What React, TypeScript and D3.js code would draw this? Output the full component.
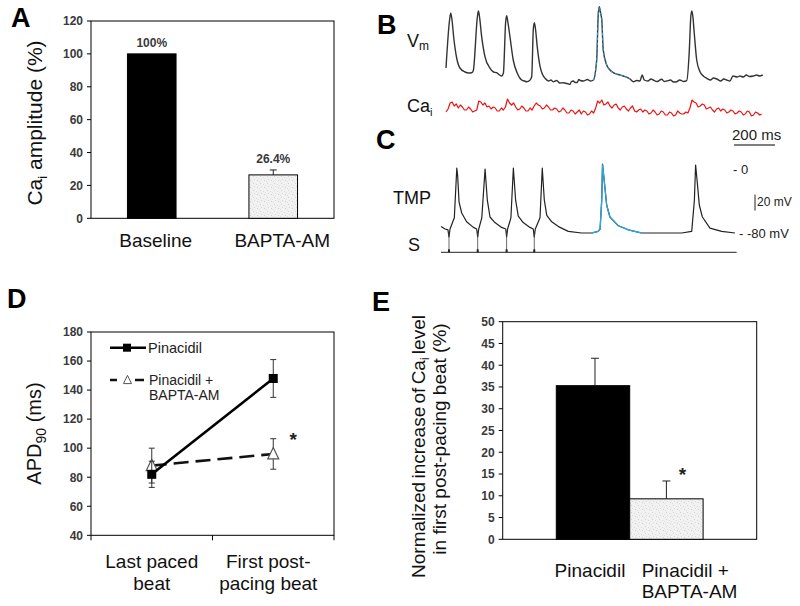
import React from 'react';
import * as d3 from 'd3';

const FONT = '"Liberation Sans", Arial, Helvetica, sans-serif';

// ---------- Panel A ----------
const aCategories = ['Baseline', 'BAPTA-AM'];
const aValues = [100, 26.4];
const aErrors = [0, 3.0];
const aLabels = ['100%', '26.4%'];
const aTicks = [0, 20, 40, 60, 80, 100, 120];

// ---------- Panel B (time in ms, amplitude in a.u.) ----------
const vmTrace: [number, number][] = [
  [0, 17], [18, 66], [23, 71.7], [28, 67], [39, 45], [52, 27], [68, 17], [93, 13], [110, 12], [125, 12.3], [133, 14.3],
  [153, 68], [158, 74], [163, 69], [174, 48.3], [190, 28.3], [215, 16.7], [232, 13], [247, 12.3], [262, 10], [272, 9], [280, 12],
  [291, 63], [296, 69.3], [301, 64], [312, 48.3], [328, 25], [348, 11.7], [360, 7], [369, 5], [382, 4], [394, 3.3], [408, 4.5], [418, 8.3],
  [426, 56], [431, 62.3], [436, 57], [445, 38.3], [459, 18.3], [472, 10], [483, 6.7], [500, 4], [512, 5], [523, 3.3], [540, 4.5], [555, 2],
  [572, 2.3], [590, 1.5], [605, 0.7], [612, 3.5], [621, 4], [630, 2.5], [640, 2.5], [648, 5.5], [655, 4.5], [670, 4],
  [690, 5.5], [705, 4], [719, 5], [735, 25],
  [743, 72], [748, 78.3], [753, 73], [760, 65], [767, 35], [784, 20], [800, 15], [816, 12.3], [840, 10.5], [865, 9], [898, 6], [914, 3.3],
  [930, 4.5], [946, 4], [957, 10], [967, 5], [985, 4], [1000, 6], [1011, 5], [1030, 3.5], [1052, 5.7], [1065, 3.5],
  [1077, 4], [1095, 5], [1110, 3], [1125, 3.3], [1140, 5], [1160, 3.5], [1174, 4.3], [1187, 35],
  [1194, 68], [1199, 74], [1204, 69], [1211, 51.7], [1223, 25], [1239, 13.3], [1255, 9], [1272, 6.7], [1290, 5], [1305, 7], [1321, 6],
  [1340, 4], [1355, 6], [1369, 5], [1385, 4], [1400, 9], [1420, 8], [1434, 9], [1450, 8], [1465, 10], [1480, 8.5],
  [1499, 9], [1515, 10], [1530, 9], [1545, 10],
];
const caiStepMs = 10;
const caiTrace = [
  8, 11, 17, 18, 14, 16, 12, 15, 13, 10,
  10, 13, 11, 8, 9, 10, 19, 18, 15, 17,
  13, 14, 11, 13, 12, 9, 9, 12, 10, 13,
  21, 17, 15, 17, 13, 10, 11, 14, 12, 9,
  9, 12, 10, 14, 17, 15, 14, 11, 12, 15,
  13, 10, 10, 12, 11, 8, 9, 12, 10, 7,
  7, 10, 9, 6, 8, 10, 6, 9, 8, 5,
  6, 9, 7, 12, 19, 17, 20, 15, 16, 18,
  14, 12, 15, 16, 12, 10, 13, 14, 11, 9,
  12, 14, 9, 8, 10, 11, 8, 10, 9, 6,
  7, 10, 8, 5, 6, 9, 8, 5, 5, 8,
  7, 4, 5, 9, 7, 6, 6, 8, 7, 12,
  20, 18, 17, 13, 14, 16, 15, 11, 12, 13,
  10, 8, 11, 12, 9, 11, 10, 7, 8, 10,
  9, 6, 7, 9, 8, 5, 6, 9, 8, 4,
  5, 8, 7, 5, 6,
];
const bBlueRange: [number, number] = [715, 905];

// ---------- Panel C (time in ms, TMP in mV) ----------
const tmpTrace: [number, number][] = [
  [0, -72], [20, -75], [34, -76], [39, -85], [44, -75], [65, -61], [77, 1], [81, -7.5], [88, -41], [101, -55],
  [125, -66], [158, -73], [174, -75], [179, -85], [184, -75], [199, -61], [215, 0], [226, -39], [239, -60],
  [263, -67], [296, -73], [316, -75], [320, -85], [325, -75], [341, -61], [353, 1], [364, -39], [377, -59],
  [401, -67], [434, -73], [450, -75], [455, -85], [460, -75], [483, -61], [494, 1], [504, -39], [516, -58],
  [540, -66], [573, -72], [621, -78], [686, -80], [735, -80], [766, -78], [776, -75], [784, -39], [788, 6],
  [800, -24], [808, -45], [824, -60], [865, -71], [914, -76], [979, -80], [1077, -80], [1174, -80], [1223, -78],
  [1236, -39], [1242, 5], [1252, -22], [1260, -45], [1275, -60], [1312, -74], [1369, -78], [1434, -80],
];
const stimTimes = [39, 179, 320, 455];
const stimEnd = 1442;
const cBlueRange: [number, number] = [700, 985];

// ---------- Panel D ----------
const dCategories = ['Last paced beat', 'First post-pacing beat'];
const dCategoryLines = [['Last paced', 'beat'], ['First post-', 'pacing beat']];
const dPinacidil = [82, 148];
const dPinacidilErr = [9, 13];
const dBapta = [88, 96];
const dBaptaErr = [12, 10.5];
const dTicks = [40, 60, 80, 100, 120, 140, 160, 180];

// ---------- Panel E ----------
const eCategories = ['Pinacidil', 'Pinacidil + BAPTA-AM'];
const eValues = [35.3, 9.3];
const eErrors = [6.3, 4.1];
const eTicks = [0, 5, 10, 15, 20, 25, 30, 35, 40, 45, 50];

const TICK_COLOR = '#3a3a3a';

function YTicks({ scale, ticks, x }: { scale: d3.ScaleLinear<number, number>; ticks: number[]; x: number }) {
  return (
    <g>
      {ticks.map((t) => (
        <g key={t}>
          <line x1={x - 4} x2={x} y1={scale(t)} y2={scale(t)} stroke="#000" strokeWidth={1} />
          <text x={x - 8} y={scale(t) + 4.3} textAnchor="end" fontSize={12} fontWeight="bold" fill={TICK_COLOR}>
            {t}
          </text>
        </g>
      ))}
    </g>
  );
}

function ErrBar({ x, y0, y1, cap }: { x: number; y0: number; y1: number; cap: number }) {
  return (
    <g stroke="#222" strokeWidth={1}>
      <line x1={x} x2={x} y1={y0} y2={y1} />
      <line x1={x - cap / 2} x2={x + cap / 2} y1={y1} y2={y1} />
    </g>
  );
}

function ErrBarBoth({ x, y0, y1, cap }: { x: number; y0: number; y1: number; cap: number }) {
  return (
    <g stroke="#333" strokeWidth={1}>
      <line x1={x} x2={x} y1={y0} y2={y1} />
      <line x1={x - cap / 2} x2={x + cap / 2} y1={y0} y2={y0} />
      <line x1={x - cap / 2} x2={x + cap / 2} y1={y1} y2={y1} />
    </g>
  );
}

export default function App() {
  // ----- A -----
  const aL = 91, aR = 334, aT = 21, aB = 218.3;
  const aX = d3.scaleBand().domain(aCategories).range([aL, aR]).paddingInner(0.6).paddingOuter(0.3);
  const aY = d3.scaleLinear().domain([0, 120]).range([aB, aT]);
  const aLabelDx = [4, 9];

  // ----- B -----
  const pxPerMs = 41 / 200;
  const bX0 = 446;
  const bX = d3.scaleLinear().domain([0, 1545]).range([bX0, bX0 + 1545 * pxPerMs]);
  const vmY = d3.scaleLinear().domain([0, 80]).range([85, 5]);
  const caY = d3.scaleLinear().domain([0, 20]).range([120, 100]);
  const vmLine = d3.line<[number, number]>().x((d) => bX(d[0])).y((d) => vmY(d[1])).curve(d3.curveMonotoneX);
  const caLine = d3.line<number>().x((_, i) => bX(i * caiStepMs)).y((d) => caY(d));
  const vmBlue = vmTrace.filter((d) => d[0] >= bBlueRange[0] && d[0] <= bBlueRange[1]);

  // ----- C -----
  const cX0 = 441;
  const cX = d3.scaleLinear().domain([0, stimEnd]).range([cX0, cX0 + stimEnd * pxPerMs]);
  const tmpY = d3.scaleLinear().domain([-80, 0]).range([233, 169]);
  const tmpLine = d3.line<[number, number]>().x((d) => cX(d[0])).y((d) => tmpY(d[1]));
  const tmpBlue = tmpTrace.filter((d) => d[0] >= cBlueRange[0] && d[0] <= cBlueRange[1]);
  const stimY = 252.3;

  // ----- D -----
  const dL = 91, dR = 334, dT = 332, dB = 535.3;
  const dX = d3.scalePoint().domain(dCategories).range([dL, dR]).padding(0.5);
  const dY = d3.scaleLinear().domain([40, 180]).range([dB, dT]);
  const dLine = d3.line<number>().x((_, i) => dX(dCategories[i]) as number).y((d) => dY(d));
  const dLabelDx = [0, -5];
  const triPath = (cx: number, cy: number, s: number) =>
    `M${cx},${cy - s * 0.58} L${cx + s / 2},${cy + s * 0.45} L${cx - s / 2},${cy + s * 0.45} Z`;

  // ----- E -----
  const eL = 502.7, eR = 756.7, eT = 321.7, eB = 539.3;
  const eX = d3.scaleBand().domain(eCategories).range([eL, eR]).paddingInner(0).paddingOuter(0.73);
  const eY = d3.scaleLinear().domain([0, 50]).range([eB, eT]);

  return (
    <svg
      width={800}
      height={606}
      viewBox="0 0 800 606"
      style={{ position: 'absolute', left: 0, top: 0, background: '#fff' }}
      fontFamily={FONT}
    >
      <defs>
        <pattern id="stipple" width={7} height={7} patternUnits="userSpaceOnUse">
          <rect width={7} height={7} fill="#f1f1f1" />
          <rect x={1} y={1} width={1} height={1} fill="#d4d4d4" />
          <rect x={4} y={2} width={1} height={1} fill="#dcdcdc" />
          <rect x={2} y={4} width={1} height={1} fill="#d8d8d8" />
          <rect x={5} y={5} width={1} height={1} fill="#d0d0d0" />
          <rect x={6} y={3} width={1} height={1} fill="#e2e2e2" />
          <rect x={0} y={6} width={1} height={1} fill="#dedede" />
        </pattern>
      </defs>
      <rect width={800} height={606} fill="#fff" />

      {/* ================= Panel A ================= */}
      <text x={11} y={27} fontSize={27} fontWeight="bold" fill="#000">A</text>
      <rect x={aL} y={aT} width={aR - aL} height={aB - aT} fill="none" stroke="#000" strokeWidth={1} />
      <YTicks scale={aY} ticks={aTicks} x={aL} />
      {aCategories.map((c, i) => {
        const x = aX(c) as number;
        const w = aX.bandwidth();
        const cx = x + w / 2;
        return (
          <g key={c}>
            <rect
              x={x}
              y={aY(aValues[i])}
              width={w}
              height={aB - aY(aValues[i])}
              fill={i === 0 ? '#000' : 'url(#stipple)'}
              stroke="#000"
              strokeWidth={1}
            />
            {aErrors[i] > 0 && <ErrBar x={cx} y0={aY(aValues[i])} y1={aY(aValues[i] + aErrors[i])} cap={7} />}
            <text
              x={cx}
              y={aY(aValues[i] + aErrors[i]) - 7}
              textAnchor="middle"
              fontSize={12}
              fontWeight="bold"
              fill={TICK_COLOR}
            >
              {aLabels[i]}
            </text>
            <text x={cx + aLabelDx[i]} y={247} textAnchor="middle" fontSize={19} fill="#111">
              {c}
            </text>
          </g>
        );
      })}
      <text transform="translate(42,123) rotate(-90)" textAnchor="middle" fontSize={21} fill="#111">
        Ca<tspan dy={5} fontSize={13}>i</tspan>
        <tspan dy={-5}> amplitude (%)</tspan>
      </text>

      {/* ================= Panel B ================= */}
      <text x={377} y={34} fontSize={27} fontWeight="bold" fill="#000">B</text>
      <text x={407} y={47} fontSize={18} fill="#111">
        V<tspan dy={3} fontSize={12}>m</tspan>
      </text>
      <text x={407} y={112} fontSize={18} fill="#111">
        Ca<tspan dy={4} fontSize={11}>i</tspan>
      </text>
      <path d={vmLine(vmTrace) || ''} fill="none" stroke="#333" strokeWidth={1.4} strokeLinejoin="round" />
      <path d={vmLine(vmBlue) || ''} fill="none" stroke="#36a3d4" strokeWidth={1} strokeDasharray="3,2" />
      <path d={caLine(caiTrace) || ''} fill="none" stroke="#ee1111" strokeWidth={1.2} strokeLinejoin="round" />
      <text x={732} y={140} fontSize={15} fill="#222">200 ms</text>
      <line x1={bX(1405)} x2={bX(1605)} y1={145} y2={145} stroke="#555" strokeWidth={1.5} />

      {/* ================= Panel C ================= */}
      <text x={376} y={149} fontSize={27} fontWeight="bold" fill="#000">C</text>
      <text x={393} y={204} fontSize={18} fill="#111">TMP</text>
      <text x={408} y={251} fontSize={18} fill="#111">S</text>
      <path d={tmpLine(tmpTrace) || ''} fill="none" stroke="#222" strokeWidth={1.2} strokeLinejoin="round" />
      <path d={tmpLine(tmpBlue) || ''} fill="none" stroke="#2aa8de" strokeWidth={1.3} />
      <line x1={cX(0)} x2={cX(stimEnd)} y1={stimY} y2={stimY} stroke="#222" strokeWidth={1} />
      {stimTimes.map((t) => (
        <g key={t}>
          <line x1={cX(t)} x2={cX(t)} y1={tmpY(-78)} y2={stimY} stroke="#444" strokeWidth={0.8} />
          <rect x={cX(t) - 1} y={stimY - 3} width={2} height={3} fill="#222" />
        </g>
      ))}
      <text x={733} y={173.5} fontSize={13} fill="#222">- 0</text>
      <line x1={755} x2={755} y1={tmpY(-32)} y2={tmpY(-52)} stroke="#222" strokeWidth={1} />
      <text x={757} y={206} fontSize={12} fill="#222">20 mV</text>
      <text x={739} y={238} fontSize={13} fill="#222">- -80 mV</text>

      {/* ================= Panel D ================= */}
      <text x={7} y={308} fontSize={27} fontWeight="bold" fill="#000">D</text>
      <rect x={dL} y={dT} width={dR - dL} height={dB - dT} fill="none" stroke="#000" strokeWidth={1} />
      <YTicks scale={dY} ticks={dTicks} x={dL} />
      {[dL, (dL + dR) / 2, dR].map((x, i) => (
        <line key={i} x1={x} x2={x} y1={dB} y2={dB + 5} stroke="#000" strokeWidth={1} />
      ))}
      {/* BAPTA series */}
      <path d={dLine(dBapta) || ''} fill="none" stroke="#111" strokeWidth={2.6} strokeDasharray="15,7" />
      {dBapta.map((v, i) => {
        const x = dX(dCategories[i]) as number;
        return <ErrBarBoth key={'be' + i} x={x} y0={dY(v - dBaptaErr[i])} y1={dY(v + dBaptaErr[i])} cap={6} />;
      })}
      {dBapta.map((v, i) => {
        const x = dX(dCategories[i]) as number;
        return <path key={'bt' + i} d={triPath(x, dY(v), 11)} fill="#fff" stroke="#555" strokeWidth={1.2} />;
      })}
      {/* Pinacidil series */}
      <path d={dLine(dPinacidil) || ''} fill="none" stroke="#000" strokeWidth={2.6} />
      {dPinacidil.map((v, i) => {
        const x = dX(dCategories[i]) as number;
        return (
          <g key={'p' + i}>
            <ErrBarBoth x={x} y0={dY(v - dPinacidilErr[i])} y1={dY(v + dPinacidilErr[i])} cap={6} />
            <rect x={x - 4.5} y={dY(v) - 4.5} width={9} height={9} fill="#000" />
          </g>
        );
      })}
      <text
        x={(dX(dCategories[1]) as number) + 20}
        y={446}
        textAnchor="middle"
        fontSize={19}
        fontWeight="bold"
        fill="#222"
      >
        *
      </text>
      {/* legend */}
      <line x1={110} x2={146} y1={347.7} y2={347.7} stroke="#000" strokeWidth={2.6} />
      <rect x={123} y={343.7} width={8} height={8} fill="#000" />
      <text x={148} y={352.5} fontSize={14.5} fill="#222">Pinacidil</text>
      <line x1={110} x2={146} y1={380} y2={380} stroke="#111" strokeWidth={2.6} strokeDasharray="7,18,9" />
      <path d={triPath(127.5, 380, 8)} fill="#fff" stroke="#555" strokeWidth={1} />
      <text x={149} y={385} fontSize={14} fill="#222">Pinacidil +</text>
      <text x={149} y={400} fontSize={14} fill="#222">BAPTA-AM</text>
      {dCategoryLines.map((lines, i) => {
        const x = (dX(dCategories[i]) as number) + dLabelDx[i];
        return (
          <text key={i} textAnchor="middle" fontSize={19} fill="#111">
            <tspan x={x} y={568}>{lines[0]}</tspan>
            <tspan x={x} y={590}>{lines[1]}</tspan>
          </text>
        );
      })}
      <text transform="translate(41,433.5) rotate(-90)" textAnchor="middle" fontSize={20} fill="#111">
        APD<tspan dy={5} fontSize={14}>90</tspan>
        <tspan dy={-5}> (ms)</tspan>
      </text>

      {/* ================= Panel E ================= */}
      <text x={372} y={311} fontSize={27} fontWeight="bold" fill="#000">E</text>
      <rect x={eL} y={eT} width={eR - eL} height={eB - eT} fill="none" stroke="#000" strokeWidth={1} />
      <YTicks scale={eY} ticks={eTicks} x={eL} />
      {eCategories.map((c, i) => {
        const x = eX(c) as number;
        const w = eX.bandwidth();
        const cx = x + w / 2;
        return (
          <g key={c}>
            <rect
              x={x}
              y={eY(eValues[i])}
              width={w}
              height={eB - eY(eValues[i])}
              fill={i === 0 ? '#000' : 'url(#stipple)'}
              stroke="#000"
              strokeWidth={1}
            />
            <ErrBar x={cx + (i === 0 ? 2 : 0)} y0={eY(eValues[i])} y1={eY(eValues[i] + eErrors[i])} cap={8} />
          </g>
        );
      })}
      <text
        x={(eX(eCategories[1]) as number) + eX.bandwidth() / 2 + 16}
        y={481}
        textAnchor="middle"
        fontSize={19}
        fontWeight="bold"
        fill="#222"
      >
        *
      </text>
      <text x={(eX(eCategories[0]) as number) + eX.bandwidth() / 2 - 3} y={577} textAnchor="middle" fontSize={19} fill="#111">
        Pinacidil
      </text>
      <text fontSize={19} fill="#111">
        <tspan x={(eX(eCategories[1]) as number) + 12} y={577}>Pinacidil +</tspan>
        <tspan x={(eX(eCategories[1]) as number) + 12} y={598}>BAPTA-AM</tspan>
      </text>
      <text transform="translate(425,446.5) rotate(-90)" textAnchor="middle" fontSize={19} fill="#111" wordSpacing={-2}>
        Normalized increase of Ca<tspan dy={4} fontSize={12}>i</tspan>
        <tspan dy={-4}> level</tspan>
      </text>
      <text transform="translate(446,439) rotate(-90)" textAnchor="middle" fontSize={19} fill="#111">
        in first post-pacing beat (%)
      </text>
    </svg>
  );
}
